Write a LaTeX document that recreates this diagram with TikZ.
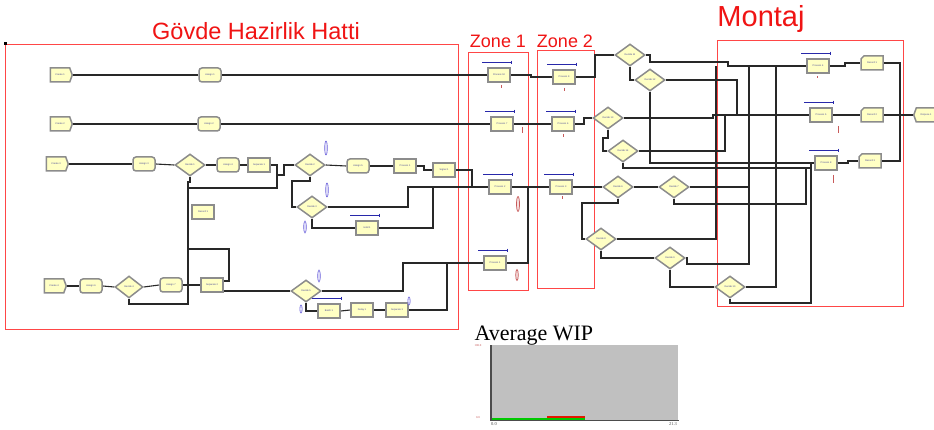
\documentclass[tikz,border=0pt]{standalone}
\usepackage{fontspec}
\setmainfont{Liberation Serif}
\setsansfont{Liberation Sans}
\usetikzlibrary{shapes.geometric,shapes.symbols,shapes.misc,arrows.meta}
\pgfdeclarelayer{bg}
\pgfsetlayers{bg,main}
\definecolor{modfill}{RGB}{255,255,196}
\definecolor{modgray}{RGB}{140,140,140}
\definecolor{wirec}{RGB}{40,40,40}
\definecolor{zonered}{RGB}{255,70,70}
\definecolor{titlered}{RGB}{240,20,20}
\definecolor{barblue}{RGB}{40,40,170}
\definecolor{txtblue}{RGB}{70,70,150}
\definecolor{plotgray}{RGB}{192,192,192}
\definecolor{markpurple}{RGB}{110,100,220}
\definecolor{markred}{RGB}{200,90,90}
\definecolor{wipgreen}{RGB}{0,200,0}
\begin{document}
\begin{tikzpicture}[x=1pt,y=-1pt,
  mod/.style={draw=modgray, line width=1.5pt, fill=modfill, minimum width=22pt, minimum height=14pt, inner sep=0pt, font=\sffamily\fontsize{2.4}{3}\selectfont, text=txtblue},
  createm/.style={mod, signal, signal to=east, signal pointer angle=140},
  disposem/.style={mod, signal, signal to=west, signal pointer angle=140},
  assignm/.style={mod, rounded corners=3pt},
  procm/.style={mod},
  recm/.style={mod, chamfered rectangle, chamfered rectangle corners=north west, chamfered rectangle xsep=2pt, chamfered rectangle ysep=2pt},
  decm/.style={mod, diamond, minimum width=30pt, minimum height=22pt},
  wire/.style={draw=wirec, line width=1.1pt},
  zone/.style={draw=zonered, line width=0.9pt},
  qbar/.style={draw=barblue, line width=1pt, -{Bar[width=3pt]}},
  pmark/.style={draw=markpurple, line width=0.6pt, fill=markpurple!15},
  rmark/.style={draw=markred, line width=0.8pt},
  title/.style={text=titlered, font=\sffamily, anchor=base}
]
\useasboundingbox (0,0) rectangle (934,430);
\begin{pgfonlayer}{bg}
\fill[white] (0,0) rectangle (934,430);
\end{pgfonlayer}

% titles
\node[title, font=\sffamily\fontsize{23.5}{26}\selectfont] (t1) at (256,40) {Gövde Hazirlik Hatti};
\node[title, font=\sffamily\fontsize{18}{20}\selectfont] (t2) at (498,48) {Zone 1};
\node[title, font=\sffamily\fontsize{18}{20}\selectfont] (t3) at (565,48) {Zone 2};
\node[title, font=\sffamily\fontsize{29}{31}\selectfont] (t4) at (761,27) {Montaj};

% ---------- modules: left area
\node[createm] (c1) at (60,75) {Create 1};
\node[assignm] (a1) at (210,75) {Assign 1};
\node[createm] (c2) at (60,124) {Create 2};
\node[assignm] (a2) at (209,124) {Assign 2};
\node[createm] (c3) at (56,164) {Create 3};
\node[assignm] (a3) at (144,164) {Assign 3};
\node[decm] (d5) at (190,165) {Decide 1};
\node[assignm] (a4) at (228,165) {Assign 4};
\node[procm] (s1) at (259,165) {Separate 1};
\node[decm] (d6) at (310,165) {Decide 2};
\node[assignm] (a7) at (358,166) {Assign 5};
\node[procm] (pr1) at (405,166) {Process 1};
\node[procm] (sg) at (444,170) {Signal 1};
\node[procm] (rec) at (203,212) {Record 1};
\node[decm] (d9) at (312,207) {Decide 3};
\node[procm] (h1) at (367,228) {Hold 1};
\node[createm] (c4) at (54,286) {Create 4};
\node[assignm] (a5) at (91,286) {Assign 6};
\node[decm, minimum width=28pt] (d7) at (129,287) {Decide 4};
\node[assignm] (a6) at (171,285) {Assign 7};
\node[procm] (s2) at (212,285) {Separate 2};
\node[decm] (d8) at (306,291) {Decide 5};
\node[procm] (b1) at (329,311) {Batch 1};
\node[procm] (dl) at (362,310) {Delay 1};
\node[procm] (s3) at (397,310) {Separate 3};

% zones modules
\node[procm] (z1a) at (499,75) {Process 10};
\node[procm] (z1b) at (502,124) {Process 7};
\node[procm] (z1c) at (500,187) {Process 2};
\node[procm] (z1d) at (495,263) {Process 1};
\node[procm] (z2a) at (564,77) {Process 9};
\node[procm] (z2b) at (563,124) {Process 6};
\node[procm] (z2c) at (561,187) {Process 3};

% right decides
\node[decm] (dd1) at (630,55) {Decide 11};
\node[decm] (dd2) at (650,80) {Decide 12};
\node[decm] (dd3) at (608,118) {Decide 13};
\node[decm] (dd4) at (623,151) {Decide 14};
\node[decm] (dd10) at (618,187) {Decide 6};
\node[decm] (dd11) at (674,187) {Decide 7};
\node[decm] (dd12) at (601,239) {Decide 8};
\node[decm] (dd13) at (670,258) {Decide 9};
\node[decm] (dd14) at (730,287) {Decide 10};

% montaj
\node[procm] (m1) at (818,66) {Process 4};
\node[recm] (r1) at (872,63) {Record 1};
\node[procm] (m2) at (821,115) {Process 5};
\node[recm] (r2) at (872,115) {Record 2};
\node[procm] (m3) at (826,163) {Process 8};
\node[recm] (r3) at (870,161) {Record 3};
\node[disposem] (disp) at (926,115) {Dispose 1};

% ---------- wires and zones (background layer)
\begin{pgfonlayer}{bg}
\draw[zone] (5,44) rectangle (458,329);
\draw[zone] (468,52) rectangle (528,290);
\draw[zone] (537,50) rectangle (594,288);
\draw[zone] (717,40) rectangle (903,306);
\draw[wire] (c1.east) -- (a1.west);
\draw[wire] (a1.east) -- (z1a.west);
\draw[wire] (z1a.east) -- (531,75) |- (z2a.west);
\draw[wire] (z2a.east) -- (595,77) |- (dd1.west);
\draw[wire] (dd1.east) -- (650,55) |- (728,62) |- (m1.west);
\draw[wire] (dd1.south) |- (dd2.west);
\draw[wire] (dd2.east) -| (737,115);
\draw[wire] (dd2.south) |- (m3.west);
\draw[wire] (c2.east) -- (a2.west);
\draw[wire] (a2.east) -- (z1b.west);
\draw[wire] (z1b.east) -- (z2b.west);
\draw[wire] (z2b.east) -- (584,124) |- (dd3.west);
\draw[wire] (dd3.east) -| (713,115) -- (m2.west);
\draw[wire] (dd3.south) -- (608,138) -- (603,138) |- (dd4.west);
\draw[wire] (dd4.east) -| (725,115);
\draw[wire] (dd4.south) |- (811,168);
\draw[wire] (c3.east) -- (a3.west);
\draw[wire] (a3.east) -- (d5.west);
\draw[wire] (d5.east) -- (a4.west);
\draw[wire] (a4.east) -- (s1.west);
\draw[wire] (s1.east) -- (277,165) -- (277,188) -- (188,188);
\draw[wire] (s1.east) -- (277,165) -- (277,175) -- (284,175) |- (d6.west);
\draw[wire] (d5.south) -- (190,182) -- (188,182) -- (188,304) -| (d7.south);
\draw[wire] ([yshift=4pt]s2.east) -- (229,281) -- (229,249) -- (188,249);
\draw[wire] (c4.east) -- (a5.west);
\draw[wire] (a5.east) -- (d7.west);
\draw[wire] (d7.east) -- (a6.west);
\draw[wire] (a6.east) -- (s2.west);
\draw[wire] ([yshift=-6pt]s2.east) -- (257,291) -- (d8.west);
\draw[wire] (d8.east) -| (403,263) -- (z1d.west);
\draw[wire] (d8.south) |- (b1.west);
\draw[wire] (b1.east) -- (dl.west);
\draw[wire] (dl.east) -- (s3.west);
\draw[wire] (s3.east) -| (447,263);
\draw[wire, line width=1.5pt] (z1d.east) -| (528,187);
\draw[wire] (d6.east) -- (a7.west);
\draw[wire] (a7.east) -- (pr1.west);
\draw[wire] (pr1.east) -- (424,166) |- (sg.west);
\draw[wire] (sg.east) -- (472,170) |- (z1c.west);
\draw[wire] (d6.south) -- (310,181) -| (292,207) -- (d9.west);
\draw[wire] (d9.east) -| (408,187) -- (z1c.west);
\draw[wire] (d9.south) |- (h1.west);
\draw[wire] (h1.east) -| (433,187);
\draw[wire] (z1c.east) -- (z2c.west);
\draw[wire] (z2c.east) -- (dd10.west);
\draw[wire] (dd10.east) -- (dd11.west);
\draw[wire] (dd11.east) -- (749,187);
\draw[wire] (dd11.south) -- (674,204) -- (806,204) -- (806,168);
\draw[wire] (dd10.south) -- (618,203) -- (582,203) |- (dd12.west);
\draw[wire] (dd12.east) -- (716,239) -- (716,66);
\draw[wire] (dd12.south) |- (dd13.west);
\draw[wire] (dd13.east) -- (687,258) -- (687,264) -- (749,264) -- (749,66);
\draw[wire] (dd13.south) |- (dd14.west);
\draw[wire] (dd14.east) -- (776,287) -- (776,66);
\draw[wire] (dd14.south) |- (811,303) -- (811,163);
\draw[wire] (m1.east) -- (845,66) -- (845,63) -- (r1.west);
\draw[wire] (m2.east) -- (r2.west);
\draw[wire] (m3.east) -- (848,163) -- (848,161) -- (r3.west);
\draw[wire] (r1.east) -| (900,115);
\draw[wire] (r3.east) -| (900,115);
\draw[wire] (r2.east) -- (disp.west);
\end{pgfonlayer}
\fill[black] (3.5,42.5) rectangle (6.5,45.5);

% queue bars
\foreach \n in {z1a,z1b,z1c,z1d,z2a,z2b,z2c,m1,m2,m3,h1,b1}{
  \draw[qbar] ([xshift=-5pt,yshift=5pt]\n.north west) -- ([xshift=1pt,yshift=5pt]\n.north east);
}

% small markers
\draw[pmark] (326,148) ellipse (1.3 and 7);
\draw[pmark] (327,190) ellipse (1.3 and 7);
\draw[pmark] (305,227) ellipse (1.3 and 6);
\draw[pmark] (319,276) ellipse (1.3 and 6);
\draw[pmark] (301,309) ellipse (1.2 and 4);
\draw[pmark] (409,301) ellipse (1.2 and 4);
\draw[draw=markred, line width=0.7pt, fill=markred!20] (518,204) ellipse (1.5 and 7.5);
\draw[draw=markred, line width=0.7pt, fill=markred!20] (517,275) ellipse (1.3 and 5.5);
\draw[rmark] (501,85) -- (501,88);
\draw[rmark] (522,127) -- (522,133);
\draw[rmark] (564,88) -- (564,91);
\draw[rmark] (563,134) -- (563,137);
\draw[rmark] (562,196) -- (562,199);
\draw[rmark] (817,76) -- (817,78);
\draw[rmark] (838,126) -- (838,133);
\draw[rmark] (833,175) -- (833,183);

% ---------- Average WIP plot
\node[anchor=base west, font=\fontsize{22}{24}\selectfont] (wip) at (471,340) {Average WIP};
\fill[plotgray] (491,345) rectangle (678,420);
\fill[black!70] (490,345) rectangle (491.8,421);
\fill[black!70] (490,420) rectangle (679,421.2);
\fill[wipgreen] (492,417.8) rectangle (585,420);
\fill[red!80!orange!90!black] (547,415.6) rectangle (585,417.8);
\node[font=\fontsize{3}{4}\selectfont, text=markred] (ly1) at (478,346) {100.0};
\node[font=\fontsize{3}{4}\selectfont, text=markred] (ly0) at (478,418) {0.0};
\node[font=\fontsize{4.5}{5}\selectfont, text=black!70] (lx0) at (494,424) {0.0};
\node[font=\fontsize{4.5}{5}\selectfont, text=black!70] (lx1) at (673,424) {21.3};
\end{tikzpicture}
\end{document}
